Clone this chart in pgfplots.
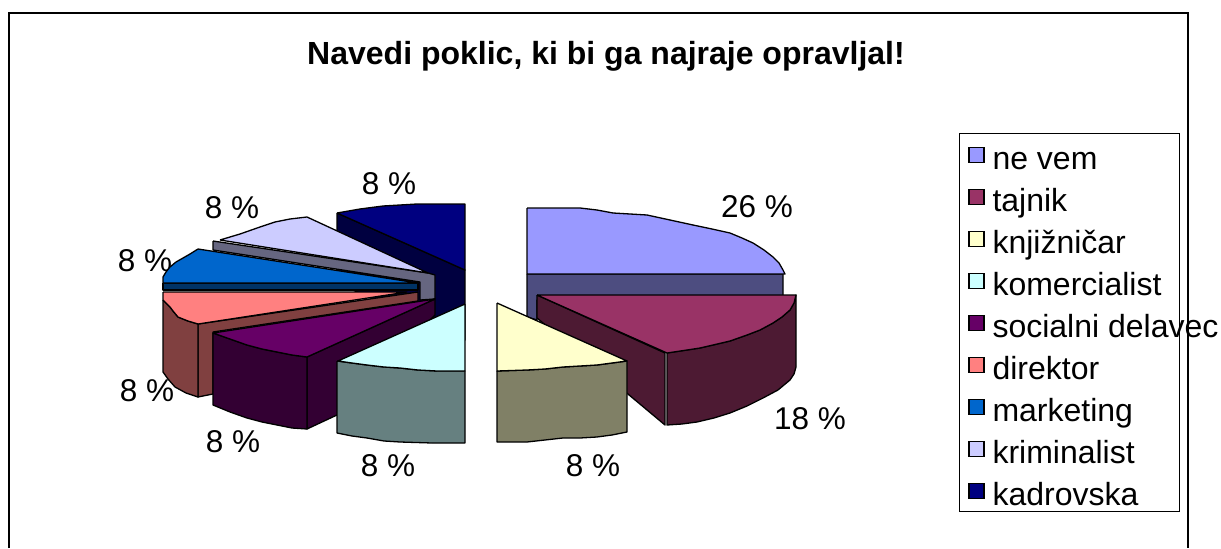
\documentclass[border=0pt]{standalone}
\usepackage{pgfplots}
\pgfplotsset{compat=1.18}
\usepackage{fontspec}
\setmainfont{Liberation Sans}
\definecolor{c1}{HTML}{9999FF}\definecolor{w1}{HTML}{4D4D80}
\definecolor{c2}{HTML}{993366}\definecolor{w2}{HTML}{4D1A33}
\definecolor{c3}{HTML}{FFFFCC}\definecolor{w3}{HTML}{808066}
\definecolor{c4}{HTML}{CCFFFF}\definecolor{w4}{HTML}{668080}
\definecolor{c5}{HTML}{660066}\definecolor{w5}{HTML}{330033}
\definecolor{c6}{HTML}{FF8080}\definecolor{w6}{HTML}{804040}
\definecolor{c7}{HTML}{0066CC}\definecolor{w7}{HTML}{003366}
\definecolor{c8}{HTML}{CCCCFF}\definecolor{w8}{HTML}{666680}
\definecolor{c9}{HTML}{000080}\definecolor{w9}{HTML}{000040}
\pgfplotsset{
 sl/.style={draw=black,line width=1.3pt,line join=round,fill=#1,mark=none,forget plot,sharp plot},
 sq/.style={legend image code/.code={\draw[black,line width=1.3pt,fill=#1] (0pt,-4pt) rectangle (15pt,11pt);}},
}
\newcommand{\ent}[1]{\addlegendentry{\makebox[176pt][l]{\hspace*{6pt}\rule[-8pt]{0pt}{31pt}#1}}}
\begin{document}
\begin{tikzpicture}
\begin{axis}[
 width=1221pt,height=548pt,scale only axis,
 xmin=0,xmax=1221,ymin=0,ymax=548,y dir=reverse,
 hide axis,clip=false,
 legend cell align=left,
 legend style={at={(axis cs:959,144)},anchor=north west,draw=none,fill=none,
   font=\fontsize{32}{36}\selectfont,inner xsep=9pt,inner ysep=0pt,row sep=13.3pt},
]
\path (axis cs:0,0) rectangle (axis cs:1221,548);
% frame
\addplot[black,line width=1.1pt,mark=none,forget plot] coordinates {(9,548)(9,13)(1188,13)(1188,548)};
% legend box
\addplot[black,line width=0.9pt,mark=none,forget plot] coordinates {(959,133)(1179,133)(1179,511)(959,511)(959,133)};
% labels go under the slices
\node[font=\fontsize{31.5}{36}\selectfont] at (axis cs:757,207) {26 \%};
\node[font=\fontsize{31.5}{36}\selectfont] at (axis cs:810,419) {18 \%};
\node[font=\fontsize{31.5}{36}\selectfont] at (axis cs:593,466) {8 \%};
\node[font=\fontsize{31.5}{36}\selectfont] at (axis cs:388,466) {8 \%};
\node[font=\fontsize{31.5}{36}\selectfont] at (axis cs:233,442) {8 \%};
\node[font=\fontsize{31.5}{36}\selectfont] at (axis cs:147,391) {8 \%};
\node[font=\fontsize{31.5}{36}\selectfont] at (axis cs:145,261) {8 \%};
\node[font=\fontsize{31.5}{36}\selectfont] at (axis cs:232,208) {8 \%};
\node[font=\fontsize{31.5}{36}\selectfont] at (axis cs:389,184) {8 \%};
\node[font=\fontsize{32}{36}\bfseries\selectfont] at (axis cs:606,56) {Navedi poklic, ki bi ga najraje opravljal!};
% kadrovska
\addplot[sl=w9] coordinates {(337,213)(465,270)(465,340)(337,283)(337,213)};
\addplot[sl=c9] coordinates {(337,213)(360,209)(383,206)(417,204)(465,204)(465,270)(337,213)};
% kriminalist
\addplot[sl=w8] coordinates {(213,241)(428,273)(435,275)(435,299)(420,300)(420,282)(213,250)(213,241)};
\addplot[sl=c8] coordinates {(220,240)(240,234)(260,227)(275,222)(290,219)(307,217)(428,273)(220,240)};
% ne vem
\addplot[sl=w1] coordinates {(527,274)(783,274)(783,300)(537,300)(537,320)(527,317)(527,274)};
\addplot[sl=c1] coordinates {(527,208)(555,208)(580,208)(597,210)(613,213)(630,214)(647,215)(670,220)(693,225)(712,229)(730,233)(742,238)(753,243)(764,250)(773,257)(779,263)(783,270)(785,274)(527,274)(527,208)};
% marketing
\addplot[sl=w7] coordinates {(163,283)(418,283)(418,290)(163,290)(163,283)};
\addplot[sl=c7] coordinates {(198,249)(190,254)(183,258)(176,262)(170,267)(166,272)(163,277)(163,283)(418,283)(198,249)};
% direktor
\addplot[sl=w6] coordinates {(198,324)(418,292)(418,301)(213,332)(213,394)(198,397)(198,324)};
\addplot[sl=w6] coordinates {(163,300)(163,372)(168,379)(175,387)(186,393)(198,397)(198,324)(188,321)(178,317)(173,311)(170,307)(163,300)};
\addplot[sl=c6] coordinates {(163,292)(407,292)(198,324)(188,321)(178,317)(173,311)(170,307)(163,300)(163,292)};
% tajnik
\addplot[sl=w2] coordinates {(537,295)(537,318)(665,425)(665,353)(537,295)};
\addplot[sl=w2] coordinates {(667,353)(667,425)(682,424)(697,422)(714,418)(730,413)(747,406)(763,398)(778,390)(790,380)(794,374)(796,367)(796,295)(794,303)(790,310)(782,317)(773,323)(760,330)(747,335)(730,341)(713,345)(700,348)(687,350)(667,353)};
\addplot[sl=c2] coordinates {(537,295)(796,295)(794,303)(790,310)(782,317)(773,323)(760,330)(747,335)(730,341)(713,345)(700,348)(687,350)(667,353)(537,295)};
% socialni delavec
\addplot[sl=w5] coordinates {(307,357)(435,299)(435,315)(337,415)(307,429)(307,357)};
\addplot[sl=w5] coordinates {(213,333)(213,405)(230,412)(247,418)(262,422)(277,425)(292,428)(307,429)(307,357)(292,355)(277,352)(262,349)(247,345)(230,339)(213,333)};
\addplot[sl=c5] coordinates {(435,299)(213,333)(230,339)(247,345)(262,349)(277,352)(292,355)(307,357)(435,299)};
% knjiznicar
\addplot[sl=w3] coordinates {(497,371)(497,442)(527,442)(545,440)(563,438)(580,438)(597,437)(612,435)(627,432)(627,361)(612,363)(597,365)(580,366)(563,367)(545,369)(527,370)(497,371)};
\addplot[sl=c3] coordinates {(497,303)(627,361)(612,363)(597,365)(580,366)(563,367)(545,369)(527,370)(497,371)(497,303)};
% komercialist
\addplot[sl=w4] coordinates {(337,361)(337,433)(352,436)(367,438)(384,441)(400,442)(432,443)(465,443)(465,371)(437,371)(418,370)(400,368)(384,367)(367,365)(352,363)(337,361)};
\addplot[sl=c4] coordinates {(465,304)(338,361)(352,363)(367,365)(384,367)(400,368)(418,370)(437,371)(465,371)(465,304)};
% legend
\addlegendimage{sq=c1}\ent{ne vem}
\addlegendimage{sq=c2}\ent{tajnik}
\addlegendimage{sq=c3}\ent{knjižničar}
\addlegendimage{sq=c4}\ent{komercialist}
\addlegendimage{sq=c5}\ent{socialni delavec}
\addlegendimage{sq=c6}\ent{direktor}
\addlegendimage{sq=c7}\ent{marketing}
\addlegendimage{sq=c8}\ent{kriminalist}
\addlegendimage{sq=c9}\ent{kadrovska}
\end{axis}
\end{tikzpicture}
\end{document}
